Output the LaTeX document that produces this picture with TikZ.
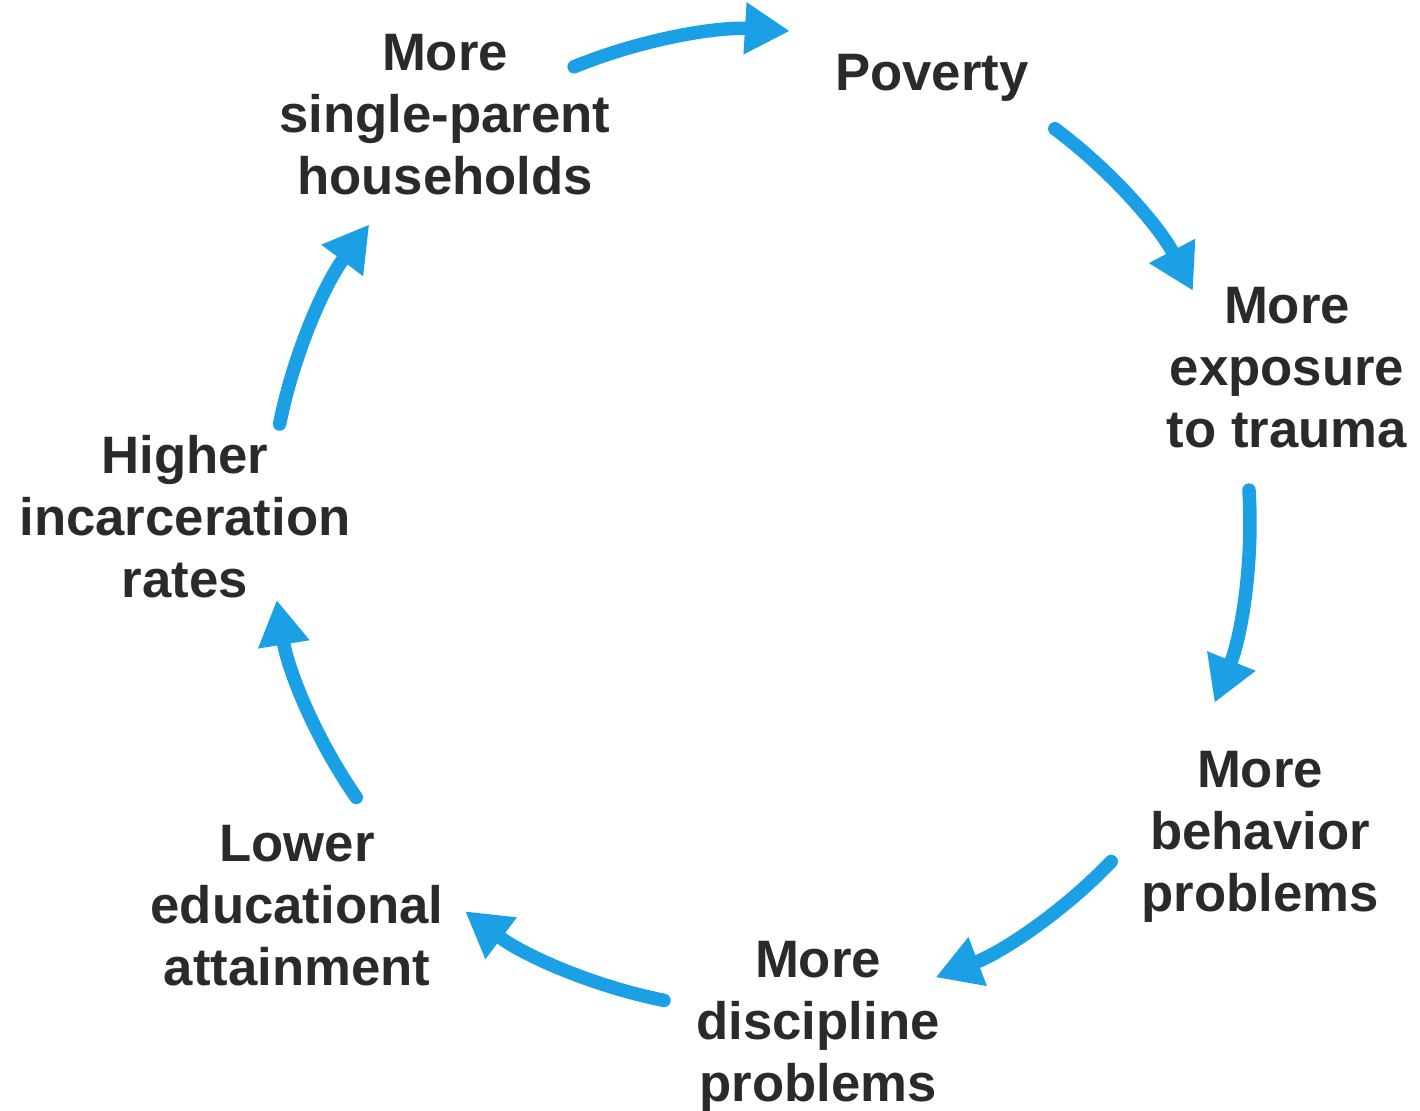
\documentclass[tikz,border=0pt]{standalone}
\usepackage{fontspec}
\setmainfont{Liberation Sans}
\usetikzlibrary{arrows.meta,calc}
\definecolor{cycleblue}{RGB}{27,160,230}
\definecolor{inkgray}{RGB}{42,42,42}
\tikzset{
  stage/.style={align=center,inner sep=0pt,text=inkgray,font=\fontsize{30}{35.3}\selectfont\bfseries},
  flow/.style={-{Triangle[length=0.9cm,width=0.98cm]},draw=cycleblue,line width=0.27cm,line cap=round}
}

\begin{document}
\begin{tikzpicture}[x=0.02cm,y=-0.02cm]
  \useasboundingbox (0,0) rectangle (1420,1111);
  \coordinate (hub) at (760,520);

  \node[stage] (poverty) at (932,78) {Poverty};
  \node[stage] (trauma) at (1287,368) {More\\exposure\\to trauma};
  \node[stage] (behavior) at (1260,837) {More\\behavior\\problems};
  \node[stage] (discipline) at (818,1027) {More\\discipline\\problems};
  \node[stage] (education) at (297,906) {Lower\\educational\\attainment};
  \node[stage] (prison) at (185,517) {Higher\\incarceration\\rates};
  \node[stage] (parent) at (445,115) {More\\single-parent\\households};

  % arcs of one circle round the hub
  \foreach \n/\a/\b in {1/112.3/86.5, 2/53/27.9, 3/3.5/-21.9, 4/-44.2/-69,
                        5/-101.3/-127, 6/-145.5/-170.6, 7/168.7/142.9}{
    \coordinate (from\n) at ($(hub)+(\a:9.8cm)$);
    \coordinate (to\n) at ($(hub)+(\b:9.8cm)$);
    \draw[flow] (from\n) to[bend left=12.8,looseness=0.86] (to\n);
  }
\end{tikzpicture}
\end{document}
